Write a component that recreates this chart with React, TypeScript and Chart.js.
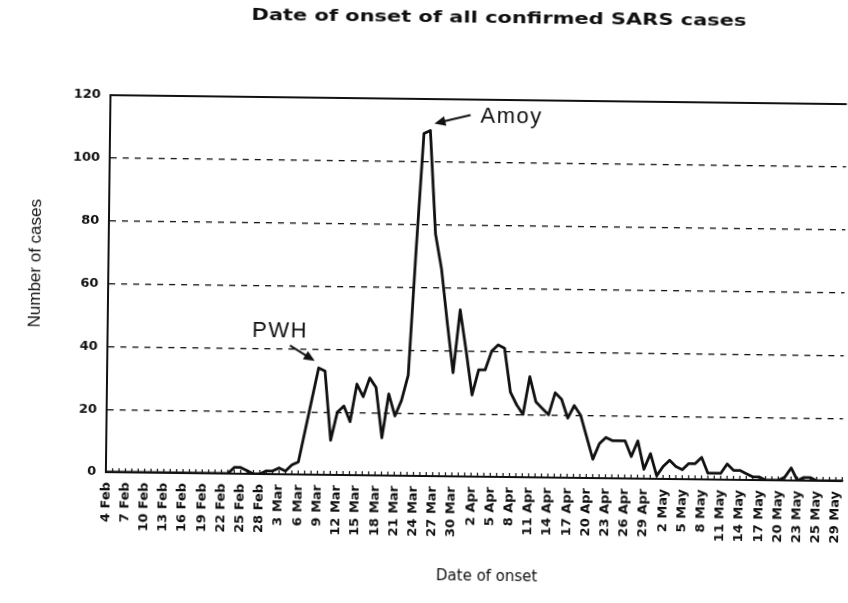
import React, { useEffect, useRef } from 'react';
import { Chart, registerables } from 'chart.js';

Chart.register(...registerables);

// ---------- data ----------
const categories = [
  '4 Feb', '5 Feb', '6 Feb', '7 Feb', '8 Feb', '9 Feb', '10 Feb', '11 Feb', '12 Feb', '13 Feb',
  '14 Feb', '15 Feb', '16 Feb', '17 Feb', '18 Feb', '19 Feb', '20 Feb', '21 Feb', '22 Feb', '23 Feb',
  '24 Feb', '25 Feb', '26 Feb', '27 Feb', '28 Feb',
  '1 Mar', '2 Mar', '3 Mar', '4 Mar', '5 Mar', '6 Mar', '7 Mar', '8 Mar', '9 Mar', '10 Mar',
  '11 Mar', '12 Mar', '13 Mar', '14 Mar', '15 Mar', '16 Mar', '17 Mar', '18 Mar', '19 Mar', '20 Mar',
  '21 Mar', '22 Mar', '23 Mar', '24 Mar', '25 Mar', '26 Mar', '27 Mar', '28 Mar', '29 Mar', '30 Mar', '31 Mar',
  '1 Apr', '2 Apr', '3 Apr', '4 Apr', '5 Apr', '6 Apr', '7 Apr', '8 Apr', '9 Apr', '10 Apr',
  '11 Apr', '12 Apr', '13 Apr', '14 Apr', '15 Apr', '16 Apr', '17 Apr', '18 Apr', '19 Apr', '20 Apr',
  '21 Apr', '22 Apr', '23 Apr', '24 Apr', '25 Apr', '26 Apr', '27 Apr', '28 Apr', '29 Apr', '30 Apr',
  '1 May', '2 May', '3 May', '4 May', '5 May', '6 May', '7 May', '8 May', '9 May', '10 May',
  '11 May', '12 May', '13 May', '14 May', '15 May', '16 May', '17 May', '18 May', '19 May', '20 May',
  '21 May', '22 May', '23 May', '24 May', '25 May', '26 May', '27 May', '28 May', '29 May', '30 May',
];

// labels printed on the axis (every third day)
const tickLabels = [
  '4 Feb', '7 Feb', '10 Feb', '13 Feb', '16 Feb', '19 Feb', '22 Feb', '25 Feb', '28 Feb',
  '3 Mar', '6 Mar', '9 Mar', '12 Mar', '15 Mar', '18 Mar', '21 Mar', '24 Mar', '27 Mar', '30 Mar',
  '2 Apr', '5 Apr', '8 Apr', '11 Apr', '14 Apr', '17 Apr', '20 Apr', '23 Apr', '26 Apr', '29 Apr',
  '2 May', '5 May', '8 May', '11 May', '14 May', '17 May', '20 May', '23 May', '25 May', '29 May',
];

const cases = [
  0, 0, 0, 0, 0, 0, 0, 0, 0, 0,
  0, 0, 0, 0, 0, 0, 0, 0, 0, 0,
  2, 2, 1, 0, 0, 1, 1, 2, 1, 3,
  4, 14, 24, 34, 33, 11, 20, 22, 17, 29,
  25, 31, 28, 12, 26, 19, 24, 32, 72, 109,
  110, 77, 66, 49, 33, 53, 40, 26, 34, 34,
  40, 42, 41, 27, 23, 20, 32, 24, 22, 20,
  27, 25, 19, 23, 20, 13, 6, 11, 13, 12,
  12, 12, 7, 12, 3, 8, 1, 4, 6, 4,
  3, 5, 5, 7, 2, 2, 2, 5, 3, 3,
  2, 1, 1, 0, 0, 0, 1, 4, 0, 1,
  1, 0, 0, 0, 0, 0,
];

const yTickValues = [0, 20, 40, 60, 80, 100, 120];

const titleText = 'Date of onset of all confirmed SARS cases';
const xTitleText = 'Date of onset';
const yTitleText = 'Number of cases';

const annotations = [
  { label: 'PWH', index: 33, value: 34 },
  { label: 'Amoy', index: 50, value: 110 },
];

// ---------- styling / layout constants ----------
const CANVAS_W = 870;
const CANVAS_H = 603;
const INK = '#111111';
const SANS_V = '"DejaVu Sans", Verdana, sans-serif';
const SANS_A = '"Liberation Sans", Arial, sans-serif';
const AREA_LEFT = 108.3;
const AREA_TOP = 99;
const AREA_BOTTOM = 476;
const AREA_RIGHT = 848.1;

function drawArrow(ctx: CanvasRenderingContext2D, x1: number, y1: number, x2: number, y2: number) {
  const ang = Math.atan2(y2 - y1, x2 - x1);
  const head = 11;
  const half = 4.8;
  const bx = x2 - head * Math.cos(ang);
  const by = y2 - head * Math.sin(ang);
  ctx.lineWidth = 2;
  ctx.beginPath();
  ctx.moveTo(x1, y1);
  ctx.lineTo(bx + Math.cos(ang), by + Math.sin(ang));
  ctx.stroke();
  ctx.beginPath();
  ctx.moveTo(x2, y2);
  ctx.lineTo(bx + half * Math.sin(ang), by - half * Math.cos(ang));
  ctx.lineTo(bx - half * Math.sin(ang), by + half * Math.cos(ang));
  ctx.closePath();
  ctx.fill();
}

const decorPlugin = {
  id: 'decor',
  afterDatasetsDraw(chart: any) {
    const { ctx, chartArea: a, scales } = chart;
    const xs = scales.x;
    const ys = scales.y;
    ctx.save();
    ctx.strokeStyle = INK;
    ctx.fillStyle = INK;

    // top frame line
    ctx.lineWidth = 2;
    ctx.beginPath();
    ctx.moveTo(a.left - 1, a.top);
    ctx.lineTo(a.right, a.top);
    ctx.stroke();

    // small daily tick marks standing on the axis
    ctx.lineWidth = 1.2;
    ctx.beginPath();
    categories.forEach((_, i) => {
      const px = xs.getPixelForValue(i);
      ctx.moveTo(px, a.bottom);
      ctx.lineTo(px, a.bottom - 4);
    });
    ctx.stroke();

    // annotations
    ctx.font = `22px ${SANS_A}`;
    (ctx as any).letterSpacing = '1.5px';
    annotations.forEach((an) => {
      const px = xs.getPixelForValue(an.index);
      const py = ys.getPixelForValue(an.value);
      ctx.textBaseline = 'alphabetic';
      if (an.label === 'PWH') {
        drawArrow(ctx, px - 29, py - 22, px - 4, py - 7);
        ctx.textAlign = 'center';
        ctx.fillText(an.label, px - 39, py - 30.5);
      } else {
        drawArrow(ctx, px + 40, py - 16, px + 4, py - 7);
        ctx.textAlign = 'left';
        ctx.fillText(an.label, px + 50, py - 8);
      }
    });
    (ctx as any).letterSpacing = '0px';
    ctx.restore();
  },
  afterDraw(chart: any) {
    const { ctx } = chart;
    ctx.save();
    ctx.fillStyle = INK;

    // main title: a wide bold face, stretched to its printed width
    ctx.font = `bold 15px ${SANS_V}`;
    const targetW = 495;
    const w0 = ctx.measureText(titleText).width;
    ctx.save();
    ctx.translate(495.5, 22);
    ctx.scale(targetW / w0, 1);
    ctx.textAlign = 'center';
    ctx.textBaseline = 'alphabetic';
    ctx.fillText(titleText, 0, 0);
    ctx.restore();

    // x axis title
    ctx.font = `15px ${SANS_V}`;
    ctx.textAlign = 'center';
    ctx.textBaseline = 'middle';
    ctx.fillText(xTitleText, 490, 576);

    // y axis title
    ctx.font = `17px ${SANS_A}`;
    ctx.translate(35, 268);
    ctx.rotate(-Math.PI / 2);
    ctx.textAlign = 'center';
    ctx.textBaseline = 'middle';
    ctx.fillText(yTitleText, 0, 0);
    ctx.restore();
  },
};

export default function App() {
  const ref = useRef<HTMLCanvasElement>(null);

  useEffect(() => {
    const canvas = ref.current;
    if (!canvas) return;
    const chart = new Chart(canvas, {
      type: 'line',
      data: {
        labels: categories,
        datasets: [
          {
            data: cases,
            borderColor: INK,
            borderWidth: 2.8,
            borderJoinStyle: 'round',
            borderCapStyle: 'round',
            pointRadius: 0,
            tension: 0,
            fill: false,
          },
        ],
      },
      options: {
        responsive: false,
        animation: false,
        devicePixelRatio: 1,
        events: [],
        layout: {
          padding: { left: 0, top: AREA_TOP, right: CANVAS_W - AREA_RIGHT, bottom: 0 },
        },
        plugins: {
          legend: { display: false },
          tooltip: { enabled: false },
          title: { display: false },
        },
        scales: {
          x: {
            type: 'category',
            offset: false,
            grid: { display: false, drawTicks: false },
            border: { display: true, color: INK, width: 2 },
            ticks: {
              autoSkip: false,
              maxRotation: 90,
              minRotation: 90,
              padding: 10,
              color: INK,
              font: { family: SANS_V, size: 13, weight: 'bold' },
              callback: (_v: any, i: number) => (i % 3 === 0 ? tickLabels[i / 3] : ''),
            },
            afterFit: (s: any) => {
              s.height = CANVAS_H - AREA_BOTTOM;
            },
          },
          y: {
            min: yTickValues[0],
            max: yTickValues[yTickValues.length - 1],
            grid: {
              drawTicks: false,
              lineWidth: 1.3,
              color: (c: any) =>
                c.tick && (c.tick.value === yTickValues[0] || c.tick.value === yTickValues[yTickValues.length - 1])
                  ? 'rgba(0,0,0,0)'
                  : INK,
            },
            border: { display: true, color: INK, width: 2, dash: [6, 6] },
            ticks: {
              stepSize: 20,
              padding: 10,
              color: INK,
              font: { family: SANS_V, size: 13, weight: 'bold' },
            },
            afterFit: (s: any) => {
              s.width = AREA_LEFT;
            },
          },
        },
      },
      plugins: [decorPlugin],
    } as any);
    return () => chart.destroy();
  }, []);

  return (
    <div
      style={{
        position: 'fixed',
        left: 0,
        top: 0,
        width: 848,
        height: 603,
        overflow: 'hidden',
        background: '#fff',
      }}
    >
      <canvas
        ref={ref}
        width={CANVAS_W}
        height={CANVAS_H}
        style={{
          display: 'block',
          width: CANVAS_W,
          height: CANVAS_H,
          transform: 'rotate(0.7deg)',
          transformOrigin: '424px 300px',
        }}
      />
    </div>
  );
}
